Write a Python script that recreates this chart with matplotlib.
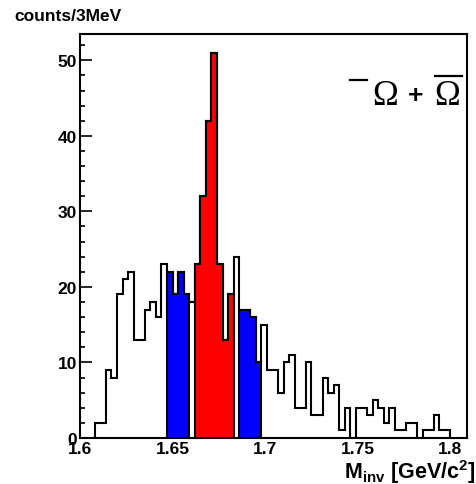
import numpy as np
import matplotlib
matplotlib.use("Agg")
import matplotlib.pyplot as plt
from matplotlib.ticker import MultipleLocator
from matplotlib.lines import Line2D

# ---- data (counts per 3 MeV bin) ----
bin_start = 1.608
bin_width = 0.003
counts = [2, 2, 9, 8, 19, 21, 22, 13, 13, 17,
          18, 16, 23, 22, 19, 22, 19, 18, 23, 32,
          42, 51, 23, 13, 19, 24, 17, 17, 16, 10,
          15, 9, 9, 6, 10, 11, 4, 4, 10, 3,
          3, 8, 6, 7, 1, 4, 0, 4, 4, 3,
          5, 4, 2, 4, 1, 1, 2, 2, 0, 1,
          1, 3, 1, 1]
blue_ranges = [(13, 17), (26, 30)]   # bin index ranges (start, stop)
red_range = (18, 25)
x_ticks = [1.6, 1.65, 1.7, 1.75, 1.8]
x_tick_labels = ["1.6", "1.65", "1.7", "1.75", "1.8"]
y_ticks = [0, 10, 20, 30, 40, 50]

counts = np.array(counts, dtype=float)
edges = bin_start + bin_width * np.arange(len(counts) + 1)

plt.rcParams['font.family'] = ['Liberation Sans', 'DejaVu Sans']
plt.rcParams['mathtext.fontset'] = 'custom'
plt.rcParams['mathtext.rm'] = 'Liberation Sans:bold'
plt.rcParams['mathtext.it'] = 'Liberation Sans:bold'
plt.rcParams['mathtext.bf'] = 'Liberation Sans:bold'

W, H = 477, 485
fig = plt.figure(figsize=(W / 100, H / 100), dpi=100)
fig.patch.set_facecolor('white')
ax = fig.add_axes([80 / W, 1 - 439 / H, (467 - 80) / W, (439 - 34.5) / H])

lw = 1.5
for (a, b) in blue_ranges:
    ax.stairs(counts[a:b], edges[a:b + 1], fill=True, color='#0000ff', zorder=1)
    ax.stairs(counts[a:b], edges[a:b + 1], color='black', lw=lw, zorder=2)
a, b = red_range
ax.stairs(counts[a:b], edges[a:b + 1], fill=True, color='#ff0000', zorder=1)
ax.stairs(counts[a:b], edges[a:b + 1], color='black', lw=lw, zorder=2)

ax.stairs(counts, edges, color='black', lw=lw, zorder=3)

ax.set_xlim(1.6, 1.809)
ax.set_ylim(0, 53.55)

ax.set_xticks(x_ticks)
ax.set_xticklabels(x_tick_labels)
ax.set_yticks(y_ticks)
ax.yaxis.set_minor_locator(MultipleLocator(2))
ax.tick_params(axis='x', which='both', length=0, pad=2, labelsize=12.5)
ax.tick_params(axis='y', which='major', direction='in', length=8.4, width=1.2,
               pad=2, labelsize=12.5)
ax.tick_params(axis='y', which='minor', direction='in', length=3.8, width=1.2)
for lab in ax.get_xticklabels() + ax.get_yticklabels():
    lab.set_fontweight('bold')

for sp in ax.spines.values():
    sp.set_linewidth(1.5)
    sp.set_color('black')

# y-axis title
fig.text(14 / W, 1 - 21 / H, "counts/3MeV", fontsize=12.5, fontweight='bold',
         ha='left', va='baseline')

# x-axis title
fig.text(476 / W, 1 - 479 / H, r"M$_{\rm inv}$ [GeV/c$^{\rm 2}$]", fontsize=15.5,
         fontweight='bold', ha='right', va='baseline')

# legend-like label: bar Omega + Omega-bar
serif = ['Liberation Serif', 'DejaVu Serif']
fig.text(372 / W, 1 - 105 / H, "\u03A9", fontsize=25, family=serif,
         ha='left', va='baseline')
fig.text(416 / W, 1 - 103 / H, "+", fontsize=19, fontweight='bold',
         ha='center', va='baseline')
fig.text(434 / W, 1 - 105 / H, "\u03A9", fontsize=25, family=serif,
         ha='left', va='baseline')
fig.add_artist(Line2D([350 / W, 367 / W], [1 - 80.7 / H, 1 - 80.7 / H],
                      transform=fig.transFigure, color='black', lw=1.6))
fig.add_artist(Line2D([435 / W, 462 / W], [1 - 76.7 / H, 1 - 76.7 / H],
                      transform=fig.transFigure, color='black', lw=1.6))

fig.savefig("out.png", dpi=100)
